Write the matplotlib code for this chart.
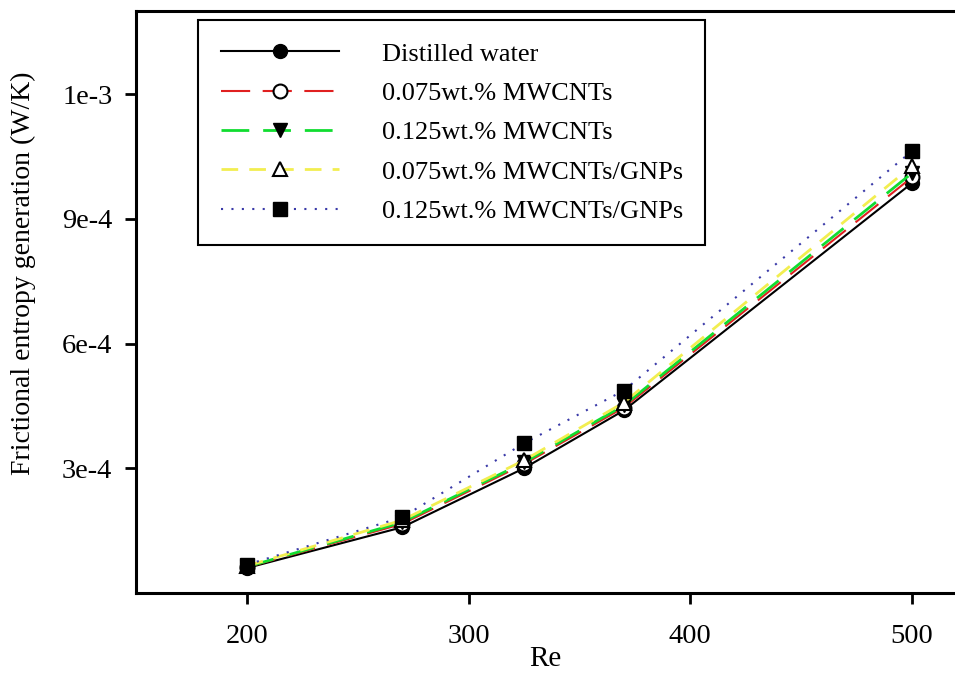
import matplotlib.pyplot as plt
from matplotlib.ticker import FixedLocator, FixedFormatter

plt.rcParams['font.family'] = ['Liberation Serif', 'DejaVu Serif']

# Reynolds numbers and frictional entropy generation (W/K)
re = [200, 270, 325, 370, 500]
water = [6.0e-5, 1.58e-4, 3.00e-4, 4.39e-4, 9.86e-4]
mw_075 = [6.2e-5, 1.66e-4, 3.10e-4, 4.46e-4, 1.000e-3]
mw_125 = [6.3e-5, 1.70e-4, 3.14e-4, 4.51e-4, 1.010e-3]
hy_075 = [6.5e-5, 1.75e-4, 3.19e-4, 4.58e-4, 1.027e-3]
hy_125 = [6.8e-5, 1.82e-4, 3.60e-4, 4.87e-4, 1.063e-3]

ytick_vals = [3e-4, 6e-4, 9e-4, 1.2e-3]
ytick_labels = ['3e-4', '6e-4', '9e-4', '1e-3']
xtick_vals = [200, 300, 400, 500]

fig = plt.figure(figsize=(9.55, 6.78), dpi=100)
ax = fig.add_axes([0.1424, 0.1254, 0.8576, 0.8584])

ms = 10
ax.plot(re, water, color='black', lw=1.5, marker='o', ms=ms,
        mfc='black', mec='black', label='Distilled water', zorder=3)
ax.plot(re, mw_075, color='#e02020', lw=1.5, dashes=(14, 6), marker='o', ms=ms,
        mfc='white', mec='black', mew=1.5, label='0.075wt.% MWCNTs', zorder=3)
ax.plot(re, mw_125, color='#10dd30', lw=2, dashes=(10, 5), marker='v', ms=ms,
        mfc='black', mec='black', label='0.125wt.% MWCNTs', zorder=3)
ax.plot(re, hy_075, color='#f2ee50', lw=2, dashes=(6, 4), marker='^', ms=ms,
        mfc='white', mec='black', mew=1.5, label='0.075wt.% MWCNTs/GNPs', zorder=3)
ax.plot(re, hy_125, color='#3a3aa8', lw=1.5, dashes=(1, 4), marker='s', ms=ms,
        mfc='black', mec='black', label='0.125wt.% MWCNTs/GNPs', zorder=3)

ax.set_xlim(150, 519.4)
ax.set_ylim(0, 1.4e-3)
ax.xaxis.set_major_locator(FixedLocator(xtick_vals))
ax.yaxis.set_major_locator(FixedLocator(ytick_vals))
ax.yaxis.set_major_formatter(FixedFormatter(ytick_labels))

for side in ['left', 'top', 'bottom']:
    ax.spines[side].set_linewidth(2.2)
ax.spines['right'].set_visible(False)
ax.tick_params(direction='out', length=8, width=2, labelsize=20.5)
ax.tick_params(axis='y', pad=9)
ax.tick_params(axis='x', pad=14)

ax.set_xlabel('Re', fontsize=21, labelpad=-2)
ax.set_ylabel('Frictional entropy generation (W/K)', fontsize=20)
ax.yaxis.set_label_coords(-0.122, 0.55)

leg = ax.legend(loc='upper left', bbox_to_anchor=(0.076, 0.985), fontsize=19,
                handlelength=4.5, handletextpad=1.6, labelspacing=0.6,
                borderpad=0.85, fancybox=False, framealpha=1, borderaxespad=0)
leg.get_frame().set_edgecolor('black')
leg.get_frame().set_linewidth(1.5)

fig.savefig('out.png', dpi=100)
